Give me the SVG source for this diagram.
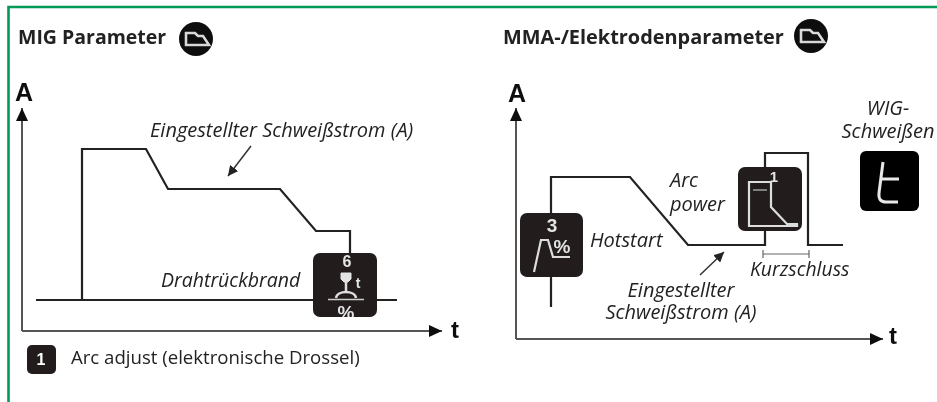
<svg xmlns="http://www.w3.org/2000/svg" width="937" height="402" viewBox="0 0 937 402">
<style>
g{filter:url(#soft)}
text{font-family:"Open Sans","Noto Sans","Liberation Sans",sans-serif;fill:#222}
.h{font-size:19.500px;font-weight:700}
.i{font-size:20px;font-style:italic}
.ax{font-family:"Liberation Sans",sans-serif;font-weight:700;fill:#111}
.cur{fill:none;stroke:#222;stroke-width:2.2;stroke-linejoin:miter}
.axis{fill:none;stroke:#555;stroke-width:2}
.box{fill:#211e1f}
.g{fill:none;stroke:#d8d8d8;stroke-width:2.6}
.w{fill:#e4e4e4;font-family:"Liberation Sans",sans-serif;font-weight:700;text-anchor:middle}
</style>
<defs>
<filter id="soft" x="-5%" y="-5%" width="110%" height="110%"><feGaussianBlur stdDeviation="0.4"/></filter>
<marker id="ah" markerUnits="userSpaceOnUse" markerWidth="14" markerHeight="12" refX="13" refY="6" orient="auto"><path d="M0 0L13 6L0 12z" fill="#111"/></marker>
<marker id="as" markerUnits="userSpaceOnUse" markerWidth="11" markerHeight="10" refX="10" refY="5" orient="auto"><path d="M0 0L10 5L0 10z" fill="#222"/></marker>
<clipPath id="c1"><rect x="440" y="315" width="20" height="23"/></clipPath>
<clipPath id="c2"><rect x="313" y="253" width="64" height="64"/></clipPath>
</defs>
<g id="frame"><path d="M8.5 402V7H937" fill="none" stroke="#009a57" stroke-width="2.6"/></g>
<g id="connectors">
<path class="axis" d="M22 331V108" marker-end="url(#ah)"/>
<path class="axis" d="M22 331H442" marker-end="url(#ah)"/>
<path class="cur" d="M36 300H397"/>
<path class="cur" d="M82 300V149H146L168 189H280L316 231H350V254"/>
<path d="M251 146L228 176" fill="none" stroke="#333" stroke-width="1.5" marker-end="url(#as)"/>
<path class="axis" d="M516 339V108" marker-end="url(#ah)"/>
<path class="axis" d="M516 339H883" marker-end="url(#ah)"/>
<path class="cur" d="M551 307V177H630L688 245H765V153H808V245H843"/>
<path d="M700 275L724 252" fill="none" stroke="#333" stroke-width="1.5" marker-end="url(#as)"/>
<path d="M763 250V258M763 254H809M809 250V258" fill="none" stroke="#666" stroke-width="1.2"/>
</g>
<g id="mig-title"><text class="h" x="18" y="44">MIG Parameter</text></g>
<g id="mig-icon"><circle cx="196" cy="39" r="17" fill="#0a0a0a"/><path class="g" d="M186 45V33H195L198 36H203L209 45Z"/></g>
<g id="mig-axis-labels">
<text class="ax" x="15" y="101" font-size="25">A</text>
<text class="ax" x="451" y="338" font-size="24" clip-path="url(#c1)">t</text>
</g>
<g id="mig-current"><text class="i" x="150" y="137">Eingestellter Schweißstrom (A)</text></g>
<g id="mig-burnback"><text class="i" x="161" y="287" style="font-size:19.500px">Drahtrückbrand</text></g>
<g id="box-6">
<rect class="box" x="313" y="253" width="64" height="64" rx="7"/>
<text class="w" x="347" y="267" font-size="16">6</text>
<path d="M341 273H351V279L348 282H344L341 279Z" fill="#e4e4e4" stroke="#e4e4e4" stroke-width="1"/>
<text class="w" x="358" y="288" font-size="14">t</text>
<path d="M346 282V291M336 298C337 290 355 290 356 298" fill="none" stroke="#ddd" stroke-width="2.5"/>
<path d="M328 299.500H364" stroke="#ccc" stroke-width="1.6"/>
<text class="w" x="346" y="319" font-size="19" clip-path="url(#c2)">%</text>
</g>
<g id="legend-1">
<rect class="box" x="27" y="345" width="29" height="29" rx="5"/>
<text class="w" x="41" y="365" font-size="16" style="fill:#fff">1</text>
<text x="71" y="364" font-size="18.600">Arc adjust (elektronische Drossel)</text>
</g>
<g id="mma-title"><text class="h" x="503" y="44" style="font-size:19.900px">MMA-/Elektrodenparameter</text></g>
<g id="mma-icon"><circle cx="811" cy="36" r="17" fill="#0a0a0a"/><path class="g" d="M801 42V30H810L813 33H818L824 42Z"/></g>
<g id="mma-axis-labels">
<text class="ax" x="508" y="102" font-size="25">A</text>
<text class="ax" x="889" y="344" font-size="24">t</text>
</g>
<g id="box-3">
<rect class="box" x="520" y="213" width="63" height="64" rx="7"/>
<text class="w" x="552" y="232" font-size="19">3</text>
<path d="M534 272L541 240H548L553 257H570" fill="none" stroke="#ddd" stroke-width="2.2"/>
<text class="w" x="562" y="253" font-size="19">%</text>
</g>
<g id="hotstart"><text class="i" x="590" y="247">Hotstart</text></g>
<g id="arc-power"><text class="i" x="670" y="187">Arc<tspan x="670" y="211">power</tspan></text></g>
<g id="box-1">
<rect class="box" x="738" y="167" width="64" height="64" rx="7"/>
<text class="w" x="774" y="182" font-size="15">1</text>
<path d="M749 226V182H771V207L787 224H797V226Z" fill="none" stroke="#ddd" stroke-width="2.2"/>
<path d="M753 190H767" fill="none" stroke="#aaa" stroke-width="1.4"/>
</g>
<g id="kurzschluss"><text class="i" x="750" y="276" style="font-size:19.400px">Kurzschluss</text></g>
<g id="mma-current"><text class="i" x="681" y="297" text-anchor="middle">Eingestellter<tspan x="681" y="319">Schweißstrom (A)</tspan></text></g>
<g id="wig-label"><text class="i" x="888" y="115" text-anchor="middle">WIG-<tspan x="888" y="138">Schweißen</tspan></text></g>
<g id="wig-box">
<rect x="860" y="151" width="59" height="60" rx="6" fill="#050505"/>
<path d="M883 162L879 193Q878 202 886 202H898M882 179H899" fill="none" stroke="#e8e8e8" stroke-width="3"/>
</g>
</svg>
